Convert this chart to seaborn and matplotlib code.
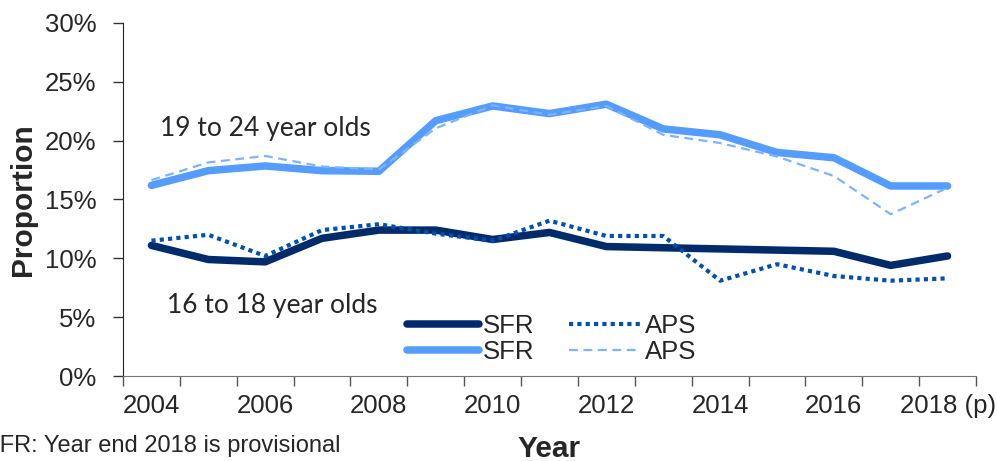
import matplotlib
matplotlib.use("Agg")
import matplotlib.pyplot as plt
import seaborn as sns
import pandas as pd
import numpy as np

years = [str(y) for y in range(2004, 2019)]
tick_labels = ["2004", "2006", "2008", "2010", "2012", "2014", "2016", "2018 (p)"]

sfr_16_18 = [11.1, 9.9, 9.7, 11.7, 12.4, 12.4, 11.6, 12.2, 11.0, 10.9, 10.8, 10.7, 10.6, 9.4, 10.2]
aps_16_18 = [11.5, 12.0, 10.2, 12.4, 12.9, 12.1, 11.5, 13.2, 11.9, 11.9, 8.1, 9.5, 8.5, 8.1, 8.3]
sfr_19_24 = [16.2, 17.45, 17.85, 17.45, 17.4, 21.7, 22.95, 22.3, 23.1, 21.0, 20.5, 19.0, 18.55, 16.15, 16.15]
aps_19_24 = [16.65, 18.15, 18.7, 17.8, 17.55, 21.05, 23.0, 22.2, 22.95, 20.5, 19.8, 18.65, 17.0, 13.75, 16.0]

sns.set_style("white")
plt.rcParams['font.family'] = ['Liberation Sans', 'DejaVu Sans']

fig = plt.figure(figsize=(9.97, 4.61), dpi=100)
ax = fig.add_axes([123/997, 85/461, (976-123)/997, (376-23)/461])

pos = np.arange(len(years))
def draw(vals, **kw):
    df = pd.DataFrame({"pos": pos, "val": vals})
    sns.lineplot(data=df, x="pos", y="val", ax=ax, **kw)

draw(sfr_16_18, color="#002B6B", lw=5.4, solid_capstyle="round", solid_joinstyle="round", label="SFR")
draw(sfr_19_24, color="#559CFF", lw=5.4, solid_capstyle="round", solid_joinstyle="round", label="SFR")
draw(aps_16_18, color="#0050B0", lw=3.0, dashes=(1, 1), dash_capstyle="butt", label="APS")
draw(aps_19_24, color="#7DB3FF", lw=1.6, dashes=(4, 2.5), label="APS")

ax.set_xlim(-0.5, len(years) - 0.5)
ax.set_ylim(0, 30)
ax.set_yticks(np.arange(0, 31, 5))
ax.set_yticklabels([f"{v}%" for v in range(0, 31, 5)], fontsize=18.5)
ax.set_xticks(np.arange(-0.5, len(years), 1))
ax.set_xticklabels([])
ax.set_xticks(np.arange(0, len(years), 2), minor=True)
ax.set_xticklabels(tick_labels, minor=True, fontsize=18.5)
ax.tick_params(axis="x", which="major", direction="out", length=7, width=1, color="#555555", bottom=True)
ax.tick_params(axis="x", which="minor", length=0, pad=13, bottom=True)
ax.tick_params(axis="y", direction="out", length=7, width=1, color="#333333", left=True, pad=12)

for s in ["top", "right"]:
    ax.spines[s].set_visible(False)
ax.spines["left"].set_color("#222222")
ax.spines["bottom"].set_color("#777777")

ax.set_xlabel("Year", fontsize=21.5, fontweight="bold", labelpad=12)
ax.set_ylabel("Proportion", fontsize=21.5, fontweight="bold", labelpad=6)

ann_font = ["Lato", "DejaVu Sans"]
ax.text(0.15, 20.4, "19 to 24 year olds", fontsize=19, family=ann_font, va="baseline")
ax.text(0.27, 5.35, "16 to 18 year olds", fontsize=19, family=ann_font, va="baseline")

h, l = ax.get_legend_handles_labels()
leg = ax.legend(h, l, ncol=2, loc="lower left", bbox_to_anchor=(0.333, 0.035), frameon=False,
                fontsize=18.5, handlelength=2.8, columnspacing=1.35, labelspacing=0.05, handletextpad=0.15,
                borderaxespad=0, borderpad=0)

fig.text(-16/997, 0.02, "SFR: Year end 2018 is provisional", fontsize=17, ha="left", va="baseline")

fig.savefig("out.png", dpi=100)
